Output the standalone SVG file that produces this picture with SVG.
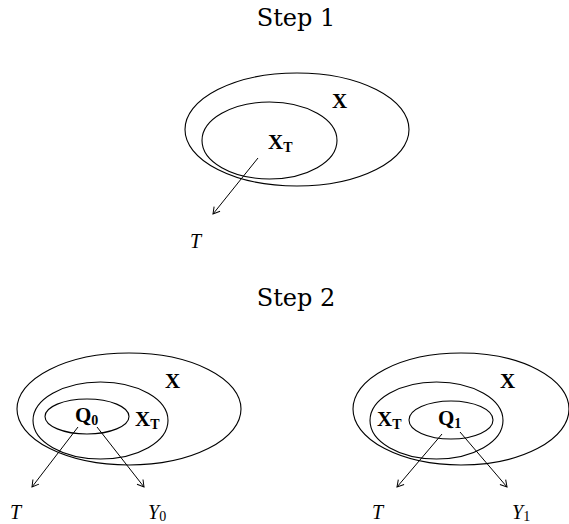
<svg xmlns="http://www.w3.org/2000/svg" width="569" height="524" viewBox="0 0 569 524">
<defs>
<marker id="ah" markerUnits="userSpaceOnUse" markerWidth="12" markerHeight="12" refX="0" refY="0" viewBox="-8 -6 10 12" orient="auto">
<path d="M-6.5,-3.8 L0,0 L-6.5,3.8" fill="none" stroke="#000" stroke-width="1"/>
</marker>
</defs>
<style>
.e{fill:none;stroke:#000;stroke-width:1.1}
.c{stroke:#000;stroke-width:1;fill:none;marker-end:url(#ah)}
text{font-family:"Liberation Serif","Times New Roman",serif;fill:#000}
.ttl{font-size:24px;font-family:"DejaVu Serif",serif}
.b{font-size:21px;font-weight:bold}
.bs{font-size:14px;font-weight:bold}
.i{font-size:20px;font-style:italic}
.s{font-size:14px}
</style>
<rect width="569" height="524" fill="#fff"/>
<text class="ttl" x="296" y="26" text-anchor="middle">Step 1</text>
<text class="ttl" x="296" y="306" text-anchor="middle">Step 2</text>

<g id="step1">
<g id="s1-X"><ellipse class="e" cx="297" cy="129.5" rx="112" ry="56.5"/><text class="b" x="332" y="108">X</text></g>
<g id="s1-XT"><ellipse class="e" cx="269.5" cy="140.5" rx="67.5" ry="38.5"/><text class="b" x="268" y="149">X<tspan class="bs" dy="3">T</tspan></text></g>
<g id="s1-T"><text class="i" x="190" y="248">T</text></g>
</g>

<g id="step2-left">
<g id="l-X"><ellipse class="e" cx="129" cy="409" rx="112" ry="56"/><text class="b" x="165" y="388">X</text></g>
<g id="l-XT"><ellipse class="e" cx="100.5" cy="420.5" rx="67.5" ry="38.5"/><text class="b" x="135" y="426">X<tspan class="bs" dy="3">T</tspan></text></g>
<g id="l-Q0"><ellipse class="e" cx="87" cy="416.5" rx="42" ry="17.5"/><text class="b" x="75" y="422">Q<tspan class="bs" dy="3">0</tspan></text></g>
<g id="l-T"><text class="i" x="10" y="519">T</text></g>
<g id="l-Y0"><text class="i" x="148" y="519">Y<tspan class="s" font-style="normal" dy="2">0</tspan></text></g>
</g>

<g id="step2-right">
<g id="r-X"><ellipse class="e" cx="461" cy="409" rx="108" ry="56"/><text class="b" x="500" y="388">X</text></g>
<g id="r-XT"><ellipse class="e" cx="436.5" cy="420.5" rx="66.5" ry="38.5"/><text class="b" x="377" y="426">X<tspan class="bs" dy="3">T</tspan></text></g>
<g id="r-Q1"><ellipse class="e" cx="451" cy="420" rx="42" ry="19"/><text class="b" x="438" y="425">Q<tspan class="bs" dy="3">1</tspan></text></g>
<g id="r-T"><text class="i" x="372" y="519">T</text></g>
<g id="r-Y1"><text class="i" x="512" y="519">Y<tspan class="s" font-style="normal" dy="2">1</tspan></text></g>
</g>

<g id="connectors">
<line class="c" x1="258" y1="158" x2="213" y2="214"/>
<line class="c" x1="78" y1="427" x2="32" y2="487"/>
<line class="c" x1="97" y1="427" x2="144" y2="487"/>
<line class="c" x1="442" y1="434" x2="397" y2="487"/>
<line class="c" x1="460" y1="432" x2="507" y2="487"/>
</g>
</svg>
